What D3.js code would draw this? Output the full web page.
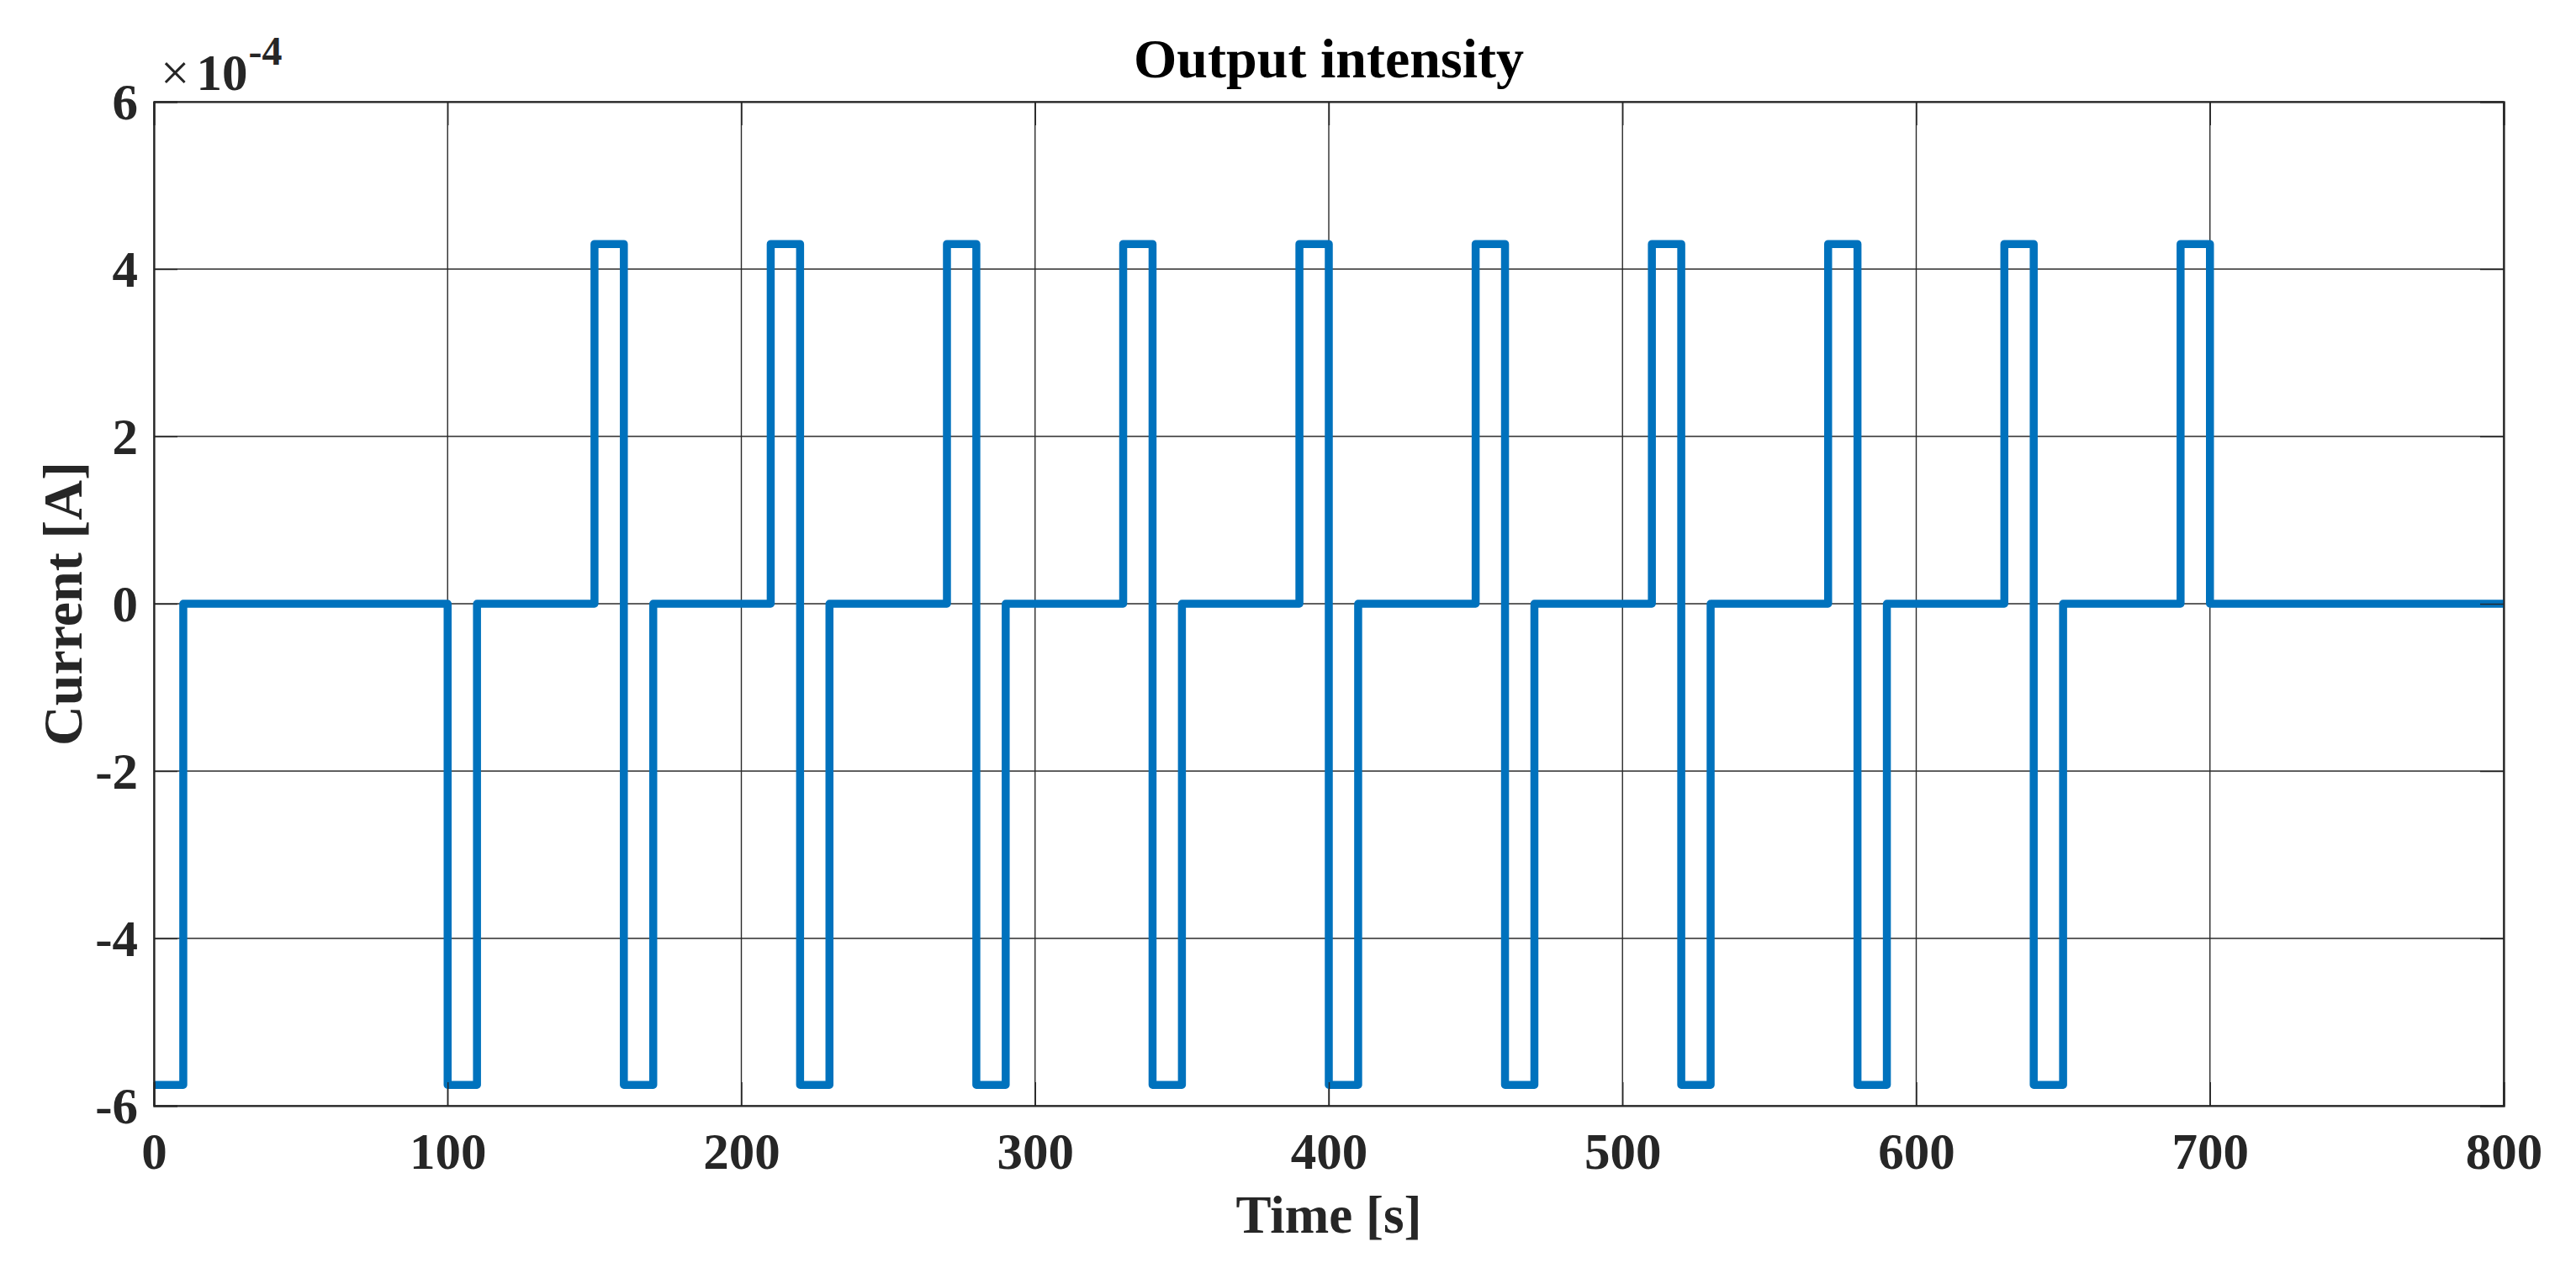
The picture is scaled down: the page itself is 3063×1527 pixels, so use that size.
<!DOCTYPE html>
<html>
<head>
<meta charset="utf-8">
<script src="https://cdn.jsdelivr.net/npm/d3@7"></script>
<style>
  html, body { margin: 0; padding: 0; background: #fff; }
  svg { display: block; }
  text { font-family: "Liberation Serif", "Times New Roman", serif; }
</style>
</head>
<body>
<svg id="chart" width="3063" height="1527"></svg>
<script>
// ---- data (current in units of 1e-4 A, time in s) ----
const stepTimes  = [0, 10, 100, 110, 150, 160, 170, 210, 220, 230, 270, 280, 290,
                    330, 340, 350, 390, 400, 410, 450, 460, 470, 510, 520, 530,
                    570, 580, 590, 630, 640, 650, 690, 700, 800];
const stepLevels = [-5.75, 0, -5.75, 0, 4.3, -5.75, 0, 4.3, -5.75, 0, 4.3, -5.75, 0,
                    4.3, -5.75, 0, 4.3, -5.75, 0, 4.3, -5.75, 0, 4.3, -5.75, 0,
                    4.3, -5.75, 0, 4.3, -5.75, 0, 4.3, 0, 0];
const xTicks = [0, 100, 200, 300, 400, 500, 600, 700, 800];
const yTicks = [-6, -4, -2, 0, 2, 4, 6];
const titleText = "Output intensity";
const xLabel = "Time [s]";
const yLabel = "Current [A]";
const exponentText = "-4";

(function () {
// ---- layout ----
const svg = d3.select("#chart");
const pL = 183, pR = 2977, pT = 121, pB = 1315;
const x = d3.scaleLinear().domain([0, 800]).range([pL, pR]);
const y = d3.scaleLinear().domain([-6, 6]).range([pB, pT]);
const axisColor = "#262626";
const fmt = d => String(d);   // plain hyphen minus as in the original

// grid
const grid = svg.append("g");
grid.selectAll("line.vx").data(xTicks).join("line")
  .attr("x1", d => x(d)).attr("x2", d => x(d))
  .attr("y1", pT).attr("y2", pB)
  .attr("stroke", "#2b2b2b").attr("stroke-width", 1.4);
grid.selectAll("line.hy").data(yTicks).join("line")
  .attr("x1", pL).attr("x2", pR)
  .attr("y1", d => y(d)).attr("y2", d => y(d))
  .attr("stroke", "#2b2b2b").attr("stroke-width", 1.4);

// data line
const pts = stepTimes.map((t, i) => [t, stepLevels[i]]);
const line = d3.line().x(d => x(d[0])).y(d => y(d[1])).curve(d3.curveStepAfter);
svg.append("defs").append("clipPath").attr("id", "clip")
  .append("rect").attr("x", pL).attr("y", pT - 10)
  .attr("width", pR - pL).attr("height", pB - pT + 20);
svg.append("path").datum(pts)
  .attr("d", line)
  .attr("fill", "none")
  .attr("stroke", "#0072BD")
  .attr("stroke-width", 9.5)
  .attr("stroke-linejoin", "round")
  .attr("stroke-linecap", "butt")
  .attr("clip-path", "url(#clip)");

// axes (box + inward ticks)
const xAxisB = d3.axisBottom(x).tickValues(xTicks).tickSize(-28).tickFormat(fmt);
const xAxisT = d3.axisTop(x).tickValues(xTicks).tickSize(-28).tickFormat("");
const yAxisL = d3.axisLeft(y).tickValues(yTicks).tickSize(-28).tickFormat(fmt);
const yAxisR = d3.axisRight(y).tickValues(yTicks).tickSize(-28).tickFormat("");

function styleAxis(g) {
  g.select(".domain").attr("stroke", axisColor).attr("stroke-width", 2.2);
  g.selectAll(".tick line").attr("stroke", axisColor).attr("stroke-width", 1.4);
  g.selectAll(".tick text")
    .attr("fill", axisColor)
    .style("font-family", '"Liberation Serif", "Times New Roman", serif')
    .style("font-size", "61px")
    .style("font-weight", "bold");
}
const gx = svg.append("g").attr("transform", `translate(0,${pB})`).call(xAxisB).call(styleAxis);
gx.selectAll(".tick text").attr("y", 32).attr("dy", "0.71em");
svg.append("g").attr("transform", `translate(0,${pT})`).call(xAxisT).call(styleAxis);
const gy = svg.append("g").attr("transform", `translate(${pL},0)`).call(yAxisL).call(styleAxis);
gy.selectAll(".tick text").attr("x", -19).attr("dy", "0.34em");
svg.append("g").attr("transform", `translate(${pR},0)`).call(yAxisR).call(styleAxis);

// exponent label
const ex = svg.append("text")
  .attr("x", 191).attr("y", 107)
  .attr("fill", axisColor)
  .style("font-size", "61px");
ex.append("tspan").text("\u00D7");
ex.append("tspan").attr("dx", 8).style("font-weight", "bold").text("10");
ex.append("tspan").attr("dy", -30).attr("dx", 1).style("font-size", "48px").style("font-weight", "bold").text(exponentText);

// title
svg.append("text")
  .attr("x", (pL + pR) / 2).attr("y", 92)
  .attr("text-anchor", "middle")
  .attr("fill", "#000")
  .style("font-size", "66px").style("font-weight", "bold")
  .text(titleText);

// x label
svg.append("text")
  .attr("x", (pL + pR) / 2).attr("y", 1466)
  .attr("text-anchor", "middle")
  .attr("fill", axisColor)
  .style("font-size", "63px").style("font-weight", "bold")
  .text(xLabel);

// y label
svg.append("text")
  .attr("transform", `translate(97,${(pT + pB) / 2}) rotate(-90)`)
  .attr("text-anchor", "middle")
  .attr("fill", axisColor)
  .style("font-size", "66px").style("font-weight", "bold")
  .text(yLabel);
})();
</script>
</body>
</html>
